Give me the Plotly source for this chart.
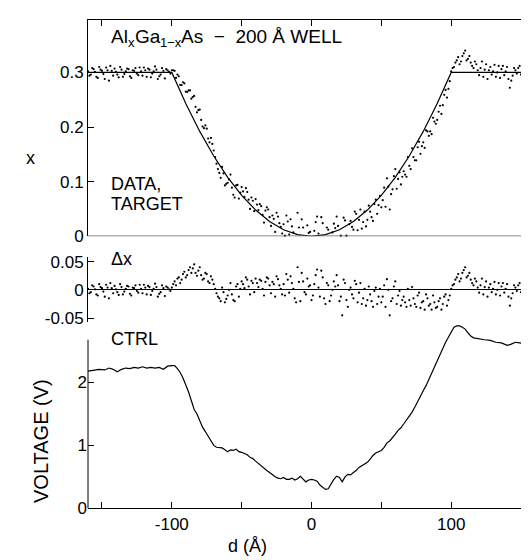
import plotly.graph_objects as go

# ---------------- data ----------------
# composition data, even positions (Å)
d_even = list(range(-160, 161, 2))
dx_even = [
    0.002, -0.004, 0.006, -0.008, 0.010, 0.003, -0.012, 0.004, 0.012, -0.006,
    0.001, -0.009, 0.005, -0.003, 0.007, -0.007, 0.004, 0.008, -0.005, 0.002,
    0.009, -0.008, 0.005, -0.002, 0.011, -0.012, -0.004, 0.003, 0.006, 0.001,
    0.004, 0.015, 0.020, 0.012, 0.028, 0.022, 0.035, 0.030, 0.045, 0.025,
    0.040, 0.018, 0.030, 0.015, 0.024, 0.010,
    -0.006, -0.015, 0.004, -0.022, -0.010, 0.012, -0.018, 0.006, -0.012,
    0.015, 0.003, 0.018, -0.008, 0.012, 0.020, 0.005, 0.016, -0.010, 0.022,
    0.008, 0.014, -0.012, 0.019, 0.002,
    0.010, 0.028, -0.005, 0.012, -0.015, 0.040, -0.020, 0.015, -0.008, 0.006,
    -0.018, 0.010, 0.036, -0.012, 0.022, -0.025, 0.008, -0.010, 0.015,
    0.026, -0.020, -0.045, 0.012, -0.030, 0.004, -0.015, 0.010,
    -0.005, -0.025, 0.002, -0.018, -0.008, -0.030, 0.004, -0.012, -0.022, 0.008,
    0.019, -0.045, -0.015, 0.015, -0.010, -0.028,
    -0.012, -0.030, -0.018, 0.005, -0.025, -0.010, -0.032, -0.020, -0.008, -0.028,
    -0.035, -0.022, -0.030, -0.015, -0.025, -0.008, -0.018, 0.002,
    0.010, 0.022, 0.015, 0.030, 0.040, 0.025, 0.018, 0.008, 0.015,
    -0.005, 0.020, 0.005, -0.012, 0.010, 0.002, -0.008, 0.012, 0.006, -0.005,
    0.010, -0.028, -0.006, 0.004, 0.008, -0.004, 0.018, 0.012, 0.002, 0.010,
    0.004,
]
x_even = [
    0.302, 0.296, 0.306, 0.292, 0.310, 0.303, 0.288, 0.304, 0.312, 0.294,
    0.301, 0.291, 0.305, 0.297, 0.307, 0.293, 0.304, 0.308, 0.295, 0.302,
    0.309, 0.292, 0.305, 0.298, 0.311, 0.288, 0.296, 0.303, 0.306, 0.301,
    0.304, 0.303, 0.296, 0.277, 0.282, 0.265, 0.267, 0.252, 0.257, 0.227,
    0.232, 0.201, 0.203, 0.179, 0.180, 0.157,
    0.133, 0.116, 0.127, 0.093, 0.098, 0.113, 0.076, 0.093, 0.069,
    0.090, 0.072, 0.081, 0.050, 0.065, 0.068, 0.048, 0.055, 0.025, 0.053,
    0.035, 0.038, 0.008, 0.036, 0.017,
    0.022, 0.038, 0.003, 0.018, -0.011, 0.043, -0.018, 0.016, -0.008, 0.006,
    -0.018, 0.010, 0.036, -0.011, 0.024, -0.022, 0.012, -0.004, 0.023,
    0.036, -0.008, -0.030, 0.029, -0.010, 0.028, 0.012, 0.041,
    0.030, 0.014, 0.045, 0.030, 0.045, 0.028, 0.067, 0.057, 0.053, 0.089,
    0.106, 0.049, 0.086, 0.123, 0.105, 0.095,
    0.119, 0.109, 0.129, 0.161, 0.139, 0.163, 0.151, 0.172, 0.194, 0.184,
    0.187, 0.210, 0.213, 0.239, 0.240, 0.268, 0.270, 0.302,
    0.310, 0.322, 0.315, 0.330, 0.340, 0.325, 0.318, 0.308, 0.315,
    0.295, 0.320, 0.305, 0.288, 0.310, 0.302, 0.292, 0.312, 0.306, 0.295,
    0.310, 0.272, 0.294, 0.304, 0.308, 0.296, 0.318, 0.312, 0.302, 0.310,
    0.304,
]

# composition data, odd positions (Å)
d_odd = list(range(-159, 160, 2))
dx_odd = [
    -0.006, 0.008, 0.001, -0.010, 0.005, -0.003, 0.009, -0.015, 0.003, 0.007,
    -0.004, 0.010, -0.008, 0.002, 0.006, -0.010, 0.003, -0.002, 0.009, -0.006,
    0.004, 0.007, -0.009, 0.002, 0.005, -0.007, 0.008, -0.011, 0.004,
    -0.002, 0.010, 0.008, 0.022, 0.018, 0.032, 0.026, 0.040, 0.038, 0.030,
    0.034, 0.026, 0.020, 0.028, 0.012, 0.018,
    0.002, -0.012, -0.020, -0.004, -0.016, 0.000, -0.008, -0.020, 0.010, 0.002,
    0.010, 0.022, 0.006, 0.016, -0.004, 0.012, 0.018, 0.002, 0.014, 0.020,
    -0.006, 0.010, 0.024, 0.008, -0.008,
    -0.010, 0.018, 0.024, 0.002, -0.022, 0.014, 0.030, -0.004, 0.020, 0.008,
    -0.010, 0.026, 0.004, 0.034, -0.015, 0.012, -0.020, 0.000, 0.006,
    0.008, -0.012, 0.018, -0.018, 0.000, -0.008, 0.016, -0.022,
    0.012, -0.015, -0.028, 0.006, -0.020, -0.002, -0.025, 0.002, -0.012, -0.030,
    0.000, -0.020, 0.006, -0.025, -0.002, -0.018,
    -0.022, 0.002, -0.028, -0.015, -0.030, -0.005, -0.022, -0.035, -0.015, -0.025,
    -0.010, -0.032, -0.020, -0.035, -0.012, -0.028, -0.010, 0.008,
    0.018, 0.028, 0.020, 0.035, 0.022, 0.030, 0.012, 0.020, 0.004,
    0.008, -0.008, 0.015, 0.004, -0.004, 0.014, 0.000, -0.010, 0.012, 0.002,
    -0.012, -0.015, 0.008, -0.002, 0.012, 0.006, 0.014, -0.004, 0.008, 0.015,
]
x_odd = [
    0.294, 0.308, 0.301, 0.290, 0.305, 0.297, 0.309, 0.285, 0.303, 0.307,
    0.296, 0.310, 0.292, 0.302, 0.306, 0.290, 0.303, 0.298, 0.309, 0.294,
    0.304, 0.307, 0.291, 0.302, 0.305, 0.293, 0.308, 0.289, 0.304,
    0.298, 0.304, 0.290, 0.293, 0.277, 0.280, 0.264, 0.267, 0.255, 0.237,
    0.231, 0.213, 0.198, 0.197, 0.172, 0.169,
    0.145, 0.123, 0.107, 0.115, 0.096, 0.104, 0.089, 0.071, 0.094, 0.080,
    0.082, 0.088, 0.067, 0.071, 0.046, 0.058, 0.059, 0.039, 0.047, 0.049,
    0.019, 0.032, 0.043, 0.024, 0.005,
    0.001, 0.027, 0.031, 0.007, -0.018, 0.016, 0.031, -0.003, 0.020, 0.008,
    -0.010, 0.026, 0.005, 0.035, -0.013, 0.016, -0.015, 0.007, 0.015,
    0.019, 0.001, 0.034, 0.001, 0.022, 0.017, 0.045, 0.011,
    0.049, 0.026, 0.018, 0.056, 0.035, 0.059, 0.041, 0.074, 0.066, 0.054,
    0.091, 0.077, 0.110, 0.087, 0.117, 0.109,
    0.113, 0.145, 0.123, 0.145, 0.139, 0.173, 0.165, 0.162, 0.192, 0.192,
    0.217, 0.206, 0.228, 0.224, 0.259, 0.254, 0.284, 0.308,
    0.318, 0.328, 0.320, 0.335, 0.322, 0.330, 0.312, 0.320, 0.304,
    0.308, 0.292, 0.315, 0.304, 0.296, 0.314, 0.300, 0.290, 0.312, 0.302,
    0.288, 0.285, 0.308, 0.298, 0.312, 0.306, 0.314, 0.296, 0.308, 0.315,
]

d_target = [-160, -100, -90, -80, -70, -60, -50, -40, -30, -20, -10, 0,
            10, 20, 30, 40, 50, 60, 70, 80, 90, 100, 160]
x_target = [0.3, 0.3, 0.243, 0.192, 0.147, 0.108, 0.075, 0.048, 0.027, 0.012, 0.003, 0.0,
            0.003, 0.012, 0.027, 0.048, 0.075, 0.108, 0.147, 0.192, 0.243, 0.3, 0.3]

d_volt = [-160, -156, -152, -148, -145, -142, -139, -136, -133, -130, -127, -124, -121,
          -118, -115, -112, -109, -106, -103, -100, -98, -96, -94, -92, -90, -88, -86,
          -84, -82, -80, -78, -76, -74, -72, -70, -68, -66, -64, -62, -60, -58, -56,
          -54, -52, -50, -48, -46, -44, -42, -40, -38, -36, -34, -32, -30, -28, -26,
          -24, -22, -20, -18, -16, -14, -12, -10, -8, -6, -4, -2, 0, 2, 4, 6, 8, 10,
          12, 14, 16, 18, 20, 22, 24, 26, 28, 30, 32, 34, 36, 38, 40, 42, 44, 46, 48,
          50, 52, 54, 56, 58, 60, 62, 64, 66, 68, 70, 72, 74, 76, 78, 80, 82, 84, 86,
          88, 90, 92, 94, 96, 98, 100, 102, 104, 106, 108, 110, 112, 114, 116, 118,
          120, 124, 128, 132, 136, 140, 143, 146, 149, 152, 155, 158, 160]
v_volt = [2.18, 2.20, 2.21, 2.20, 2.23, 2.21, 2.17, 2.21, 2.23, 2.22, 2.24, 2.23, 2.25,
          2.23, 2.24, 2.23, 2.24, 2.21, 2.26, 2.27, 2.27, 2.22, 2.16, 2.07, 1.97, 1.85, 1.71,
          1.57, 1.50, 1.40, 1.29, 1.22, 1.14, 1.07, 1.00, 0.97, 0.97, 0.96, 0.93, 0.90, 0.93, 0.92,
          0.94, 0.90, 0.89, 0.87, 0.85, 0.81, 0.79, 0.75, 0.71, 0.67, 0.63, 0.60, 0.57, 0.53, 0.50,
          0.48, 0.47, 0.49, 0.46, 0.46, 0.48, 0.45, 0.47, 0.51, 0.47, 0.42, 0.45, 0.46, 0.45, 0.43, 0.37, 0.33, 0.30,
          0.31, 0.39, 0.46, 0.51, 0.49, 0.42, 0.50, 0.54, 0.53, 0.57, 0.60, 0.65, 0.68, 0.70, 0.73, 0.78, 0.84, 0.88, 0.90,
          0.92, 0.97, 1.04, 1.07, 1.12, 1.18, 1.24, 1.28, 1.34, 1.40, 1.46, 1.53, 1.61, 1.70, 1.80, 1.87, 1.95, 2.05, 2.14,
          2.23, 2.33, 2.45, 2.55, 2.64, 2.72, 2.80, 2.88, 2.90, 2.90, 2.88, 2.85, 2.79, 2.74, 2.71, 2.70,
          2.69, 2.68, 2.67, 2.64, 2.63, 2.59, 2.61, 2.64, 2.63, 2.61, 2.60, 2.55, 2.53]

x_major_ticks = [-100, 0, 100]
x_major_text = ["-100", "0", "100"]
x_minor_ticks = [-150, -50, 50, 150]
top_x_ticks = [-150, -100, -50, 0, 50, 100, 150]
top_ticks = [0, 0.1, 0.2, 0.3]
top_ticktext = ["0", "0.1", "0.2", "0.3"]
mid_ticks = [-0.05, 0, 0.05]
mid_ticktext = ["-0.05", "0", "0.05"]
bot_ticks = [0, 1, 2]
bot_ticktext = ["0", "1", "2"]

# ---------------- layout helpers ----------------
W, H = 529, 560
FONT = "Liberation Sans, Arial, sans-serif"
XL, XR = 80, 527


def fx(p):
    return p / W


def fy(p):
    return 1 - p / H


d_all = d_even + d_odd
x_all = x_even + x_odd
dx_all = dx_even + dx_odd

fig = go.Figure()
fig.add_trace(go.Scatter(x=d_target, y=x_target, mode="lines", xaxis="x2", yaxis="y2",
                         line=dict(color="black", width=1.2), showlegend=False))
fig.add_trace(go.Scatter(x=d_all, y=x_all, mode="markers", xaxis="x2", yaxis="y2",
                         marker=dict(color="black", size=2.2), cliponaxis=False, showlegend=False))
fig.add_trace(go.Scatter(x=d_all, y=dx_all, mode="markers", xaxis="x3", yaxis="y3",
                         marker=dict(color="black", size=2.2), cliponaxis=False, showlegend=False))
fig.add_trace(go.Scatter(x=d_volt, y=v_volt, mode="lines", xaxis="x", yaxis="y",
                         line=dict(color="black", width=1.2), showlegend=False))

axis_common = dict(showgrid=False, zeroline=False, color="black",
                   tickfont=dict(family=FONT, size=17, color="black"),
                   ticks="inside", ticklen=6, tickwidth=1, tickcolor="black",
                   linecolor="black", linewidth=1)

xdom = [fx(XL), fx(XR)]

fig.update_layout(
    width=W, height=H,
    margin=dict(l=0, r=0, t=0, b=0),
    paper_bgcolor="white", plot_bgcolor="white",
    font=dict(family=FONT, size=17, color="black"),
    xaxis=dict(domain=xdom, range=[-160, 160], anchor="y", tickvals=x_major_ticks,
               ticktext=x_major_text, showline=True,
               minor=dict(tickmode="array", tickvals=x_minor_ticks, ticks="inside",
                          ticklen=6, tickwidth=1, tickcolor="black", showgrid=False),
               **axis_common),
    yaxis=dict(domain=[fy(509), fy(319)], range=[0, 2.946], anchor="x",
               tickvals=bot_ticks, ticktext=bot_ticktext, showline=False,
               mirror="ticks", **axis_common),
    xaxis2=dict(domain=xdom, range=[-160, 160], anchor="y2", side="top",
                tickvals=top_x_ticks, showticklabels=False, showline=True, **axis_common),
    yaxis2=dict(domain=[fy(230), fy(8)], range=[0, 0.3964], anchor="x2",
                tickvals=top_ticks, ticktext=top_ticktext, showline=True,
                mirror="ticks", **axis_common),
    xaxis3=dict(domain=xdom, range=[-160, 160], anchor="y3", visible=False),
    yaxis3=dict(domain=[fy(318), fy(251)], range=[-0.0569, 0.0586], anchor="x3",
                tickvals=mid_ticks, ticktext=mid_ticktext, showline=True,
                mirror="ticks", **axis_common),
)
fig.update_yaxes(selector=dict(anchor="x3"), zeroline=True, zerolinecolor="black", zerolinewidth=1)

shapes = [
    dict(type="line", xref="paper", yref="y", x0=fx(XL), x1=fx(XL), y0=0, y1=2.68,
         line=dict(color="black", width=1)),
    dict(type="line", xref="paper", yref="y", x0=fx(XR), x1=fx(XR), y0=0, y1=2.73,
         line=dict(color="black", width=1)),
    dict(type="line", xref="paper", yref="y2", x0=fx(XL), x1=fx(XR), y0=0, y1=0,
         line=dict(color="#666666", width=1.4)),
]
fig.update_layout(shapes=shapes)


def label(text, x, y, size=18, xanchor="left", angle=0):
    fig.add_annotation(text=text, xref="paper", yref="paper", x=fx(x), y=fy(y),
                       xanchor=xanchor, yanchor="middle", showarrow=False, textangle=angle,
                       font=dict(family=FONT, size=size, color="black"))


# title with hand-placed subscripts
label("Al", 101, 25, size=19)
label("x", 118, 31, size=13)
label("Ga", 124.5, 25, size=19)
label("1\u2212x", 150, 31, size=13)
label("As  \u2212  200 \u00c5 WELL", 171, 25, size=19)

label("DATA,", 101, 176)
label("TARGET", 101, 197)
label("\u0394x", 101, 253)
label("CTRL", 101, 335)
label("x", 22, 150, xanchor="center")
label("VOLTAGE (V)", 33, 440, size=20, xanchor="center", angle=-90)
label("d (\u00c5)", 239, 548, xanchor="center")

fig.write_html("out.html")
